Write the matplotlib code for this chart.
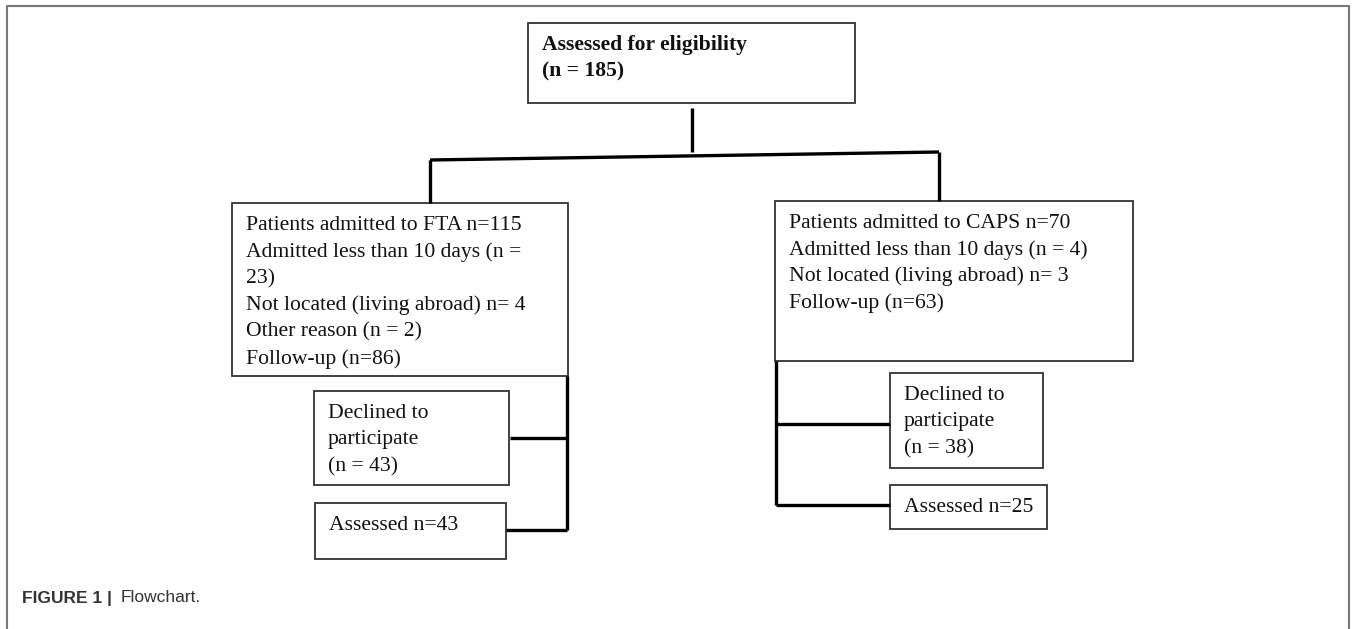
import matplotlib.pyplot as plt
from matplotlib.patches import Rectangle

# flowchart content
top_text = ["Assessed for eligibility", "(n = 185)"]
fta_text = ["Patients admitted to FTA n=115",
            "Admitted less than 10 days (n =",
            "23)",
            "Not located (living abroad) n= 4",
            "Other reason (n = 2)",
            "Follow-up (n=86)"]
caps_text = ["Patients admitted to CAPS n=70",
             "Admitted less than 10 days (n = 4)",
             "Not located (living abroad) n= 3",
             "Follow-up (n=63)"]
fta_declined = ["Declined to", "participate", "(n = 43)"]
fta_assessed = ["Assessed n=43"]
caps_declined = ["Declined to", "participate", "(n = 38)"]
caps_assessed = ["Assessed n=25"]

# layout in pixels (x0, y0, x1, y1)
boxes = [
    (top_text, (528, 23, 855, 103), True),
    (fta_text, (232, 203, 568, 376), False),
    (caps_text, (775, 201, 1133, 361), False),
    (fta_declined, (314, 391, 509, 485), False),
    (fta_assessed, (315, 503, 506, 559), False),
    (caps_declined, (890, 373, 1043, 468), False),
    (caps_assessed, (890, 485, 1047, 529), False),
]
connectors = [
    ([692, 692], [108, 152]),
    ([430, 939], [160, 152]),
    ([430, 430], [160, 203]),
    ([939, 939], [152, 201]),
    ([567, 567], [376, 530]),
    ([510, 567], [438, 438]),
    ([506, 567], [530, 530]),
    ([776, 776], [361, 505]),
    ([776, 890], [424, 424]),
    ([776, 890], [505, 505]),
]

W, H = 1357, 629
fig = plt.figure(figsize=(W / 100, H / 100), dpi=100)
ax = fig.add_axes([0, 0, 1, 1])
ax.set_xlim(0, W)
ax.set_ylim(H, 0)
ax.axis('off')

# outer frame (open at the bottom)
ax.plot([7, 7, 1349, 1349], [629, 6, 6, 629], color='#777777', lw=1.5)

line_h = 26.8
for lines, (x0, y0, x1, y1), bold in boxes:
    ax.add_patch(Rectangle((x0, y0), x1 - x0, y1 - y0, fill=False,
                           edgecolor='#333333', lw=1.3))
    for i, t in enumerate(lines):
        ax.text(x0 + 14, y0 + 22 + i * line_h, t, family='Liberation Serif',
                fontsize=15.6, fontweight='bold' if bold else 'normal',
                va='center', ha='left', color='#111111')

for xs, ys in connectors:
    ax.plot(xs, ys, color='black', lw=2.4, solid_capstyle='butt')

ax.text(22, 598, "FIGURE 1 |", family='Liberation Sans', fontsize=12.5,
        fontweight='bold', va='center', color='#333333')
ax.text(121, 598, "Flowchart.", family='Liberation Sans', fontsize=12.5,
        va='center', color='#333333')

fig.savefig('out.png', dpi=100)
